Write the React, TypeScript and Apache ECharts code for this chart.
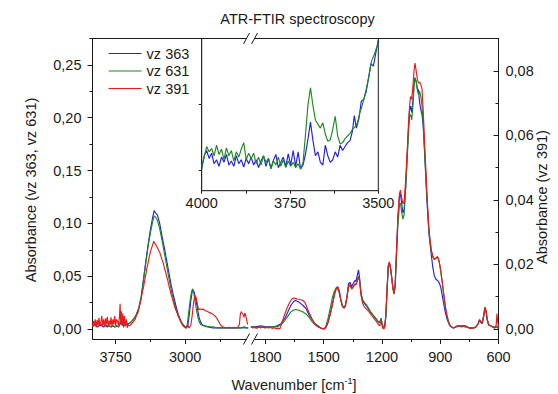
import { useEffect, useRef } from 'react';
import * as echarts from 'echarts';

type P = [number, number][];

// ---------- texts ----------
const titleText = 'ATR-FTIR spectroscopy';
const leftAxisName = 'Absorbance (vz 363, vz 631)';
const rightAxisName = 'Absorbance (vz 391)';
const seriesNames = ['vz 363', 'vz 631', 'vz 391'];

// ---------- ticks ----------
const highTicks = [3750, 3000];
const highMinor = [3375, 2625];
const lowTicks = [1800, 1500, 1200, 900, 600];
const lowMinor = [1650, 1350, 1050, 750];
const leftYTicks = [0, 0.05, 0.1, 0.15, 0.2, 0.25];
const leftYMinor = [0.025, 0.075, 0.125, 0.175, 0.225, 0.275];
const rightYTicks = [0, 0.02, 0.04, 0.06, 0.08];
const rightYMinor = [0.01, 0.03, 0.05, 0.07, 0.09];
const insetXTicks = [4000, 3750, 3500];
const insetXMinor = [3875, 3625];
const insetYTicks = [0, 1, 2];

// ---------- data: high wavenumber segment (4000 - 2300 cm-1) ----------
const vz363High: P = [
  [4000,0.002],[3980,0.004],[3960,0.003],[3940,0.002],[3920,0.004],[3900,0.003],[3880,0.002],[3860,0.003],
  [3840,0.002],[3820,0.003],[3800,0.002],[3780,0.003],[3760,0.002],[3740,0.003],[3720,0.002],[3705,0.004],
  [3692,0.007],[3680,0.004],[3665,0.003],[3650,0.004],[3630,0.004],[3610,0.005],[3590,0.006],[3570,0.008],
  [3550,0.010],[3525,0.014],[3500,0.020],[3475,0.030],[3450,0.047],[3425,0.064],[3400,0.080],[3375,0.094],
  [3350,0.106],[3335,0.112],[3320,0.110],[3300,0.108],[3275,0.100],[3250,0.088],[3225,0.077],[3200,0.065],
  [3175,0.053],[3150,0.041],[3125,0.031],[3100,0.022],[3075,0.014],[3050,0.008],[3025,0.004],[3000,0.002],
  [2985,0.001],[2970,0.004],[2955,0.014],[2940,0.026],[2925,0.035],[2912,0.037],[2900,0.034],[2890,0.029],
  [2878,0.025],[2865,0.018],[2850,0.011],[2835,0.007],[2815,0.004],[2790,0.003],[2750,0.002],[2700,0.001],
  [2650,0.001],[2600,0.001],[2550,0.001],[2500,0.001],[2450,0.001],[2400,0.001],[2360,0.002],[2340,0.001],
  [2320,0.001]
];
const vz631High: P = [
  [4000,0.003],[3980,0.004],[3960,0.005],[3940,0.004],[3920,0.005],[3900,0.004],[3880,0.005],[3860,0.004],
  [3840,0.003],[3820,0.003],[3800,0.002],[3780,0.003],[3760,0.002],[3740,0.003],[3720,0.002],[3705,0.006],
  [3692,0.009],[3680,0.006],[3665,0.006],[3650,0.005],[3630,0.006],[3610,0.005],[3590,0.006],[3570,0.008],
  [3550,0.010],[3525,0.014],[3500,0.020],[3475,0.030],[3450,0.046],[3425,0.062],[3400,0.078],[3375,0.091],
  [3350,0.102],[3335,0.107],[3320,0.106],[3300,0.103],[3275,0.095],[3250,0.084],[3225,0.072],[3200,0.060],
  [3175,0.048],[3150,0.037],[3125,0.027],[3100,0.019],[3075,0.012],[3050,0.007],[3025,0.003],[3000,0.001],
  [2990,0.001],[2978,0.004],[2962,0.016],[2945,0.028],[2930,0.036],[2918,0.038],[2905,0.033],[2893,0.026],
  [2880,0.019],[2865,0.012],[2850,0.007],[2830,0.004],[2800,0.003],[2750,0.002],[2700,0.002],[2650,0.001],
  [2600,0.001],[2550,0.001],[2500,0.001],[2450,0.001],[2400,0.001],[2360,0.001],[2320,0.001]
];
const vz391High: P = [
  [4000,0.0008],[3990,0.0025],[3980,0.0010],[3970,0.0030],[3960,0.0005],[3950,0.0028],[3940,0.0012],[3930,0.0035],
  [3920,0.0008],[3910,0.0022],[3900,0.0040],[3890,0.0010],[3880,0.0030],[3870,0.0006],[3860,0.0033],[3850,0.0015],
  [3840,0.0038],[3830,0.0009],[3820,0.0026],[3810,0.0012],[3800,0.0036],[3790,0.0007],[3780,0.0030],[3770,0.0014],
  [3760,0.0040],[3750,0.0010],[3740,0.0030],[3730,0.0025],[3720,0.0012],[3710,0.0035],[3702,0.0078],[3696,0.0020],
  [3688,0.0055],[3680,0.0010],[3672,0.0048],[3664,0.0005],[3655,0.0040],[3645,0.0008],[3635,0.0030],[3625,0.0004],
  [3615,0.0012],[3600,0.0010],[3580,0.0015],[3560,0.0022],[3540,0.0030],[3525,0.0042],[3510,0.0050],[3500,0.0062],
  [3490,0.0075],[3475,0.0092],[3462,0.0115],[3450,0.0128],[3437,0.0150],[3425,0.0168],[3412,0.0190],[3400,0.0205],
  [3387,0.0225],[3375,0.0238],[3362,0.0252],[3350,0.0260],[3340,0.0272],[3330,0.0266],[3320,0.0262],[3310,0.0258],
  [3300,0.0252],[3288,0.0245],[3275,0.0238],[3262,0.0226],[3250,0.0215],[3237,0.0205],[3225,0.0190],[3212,0.0178],
  [3200,0.0163],[3187,0.0150],[3175,0.0134],[3162,0.0120],[3150,0.0105],[3137,0.0094],[3125,0.0080],[3112,0.0068],
  [3100,0.0058],[3087,0.0050],[3075,0.0041],[3062,0.0035],[3050,0.0028],[3037,0.0020],[3025,0.0014],[3012,0.0010],
  [3000,0.0008],[2985,0.0004],[2970,0.0012],[2960,0.0003],[2950,0.0008],[2940,0.0010],[2925,0.0040],[2912,0.0075],
  [2900,0.0098],[2890,0.0104],[2880,0.0095],[2870,0.0080],[2860,0.0066],[2850,0.0060],[2835,0.0062],[2820,0.0060],
  [2805,0.0062],[2790,0.0058],[2775,0.0056],[2760,0.0055],[2745,0.0052],[2730,0.0050],[2715,0.0048],[2700,0.0046],
  [2685,0.0042],[2670,0.0038],[2655,0.0032],[2640,0.0024],[2625,0.0016],[2610,0.0010],[2595,0.0007],[2575,0.0005],
  [2550,0.0004],[2525,0.0005],[2500,0.0004],[2475,0.0005],[2450,0.0004],[2430,0.0006],[2415,0.0014],[2405,0.0045],
  [2395,0.0054],[2385,0.0048],[2375,0.0046],[2365,0.0036],[2355,0.0050],[2345,0.0040],[2335,0.0026],[2326,0.0014]
];

// ---------- data: low wavenumber segment (1875 - 600 cm-1) ----------
const vz363Low: P = [
  [1875,0.002],[1850,0.002],[1825,0.003],[1800,0.002],[1780,0.002],[1760,0.002],[1740,0.003],[1720,0.005],
  [1700,0.010],[1685,0.016],[1670,0.022],[1655,0.026],[1645,0.027],[1632,0.026],[1618,0.024],[1605,0.022],
  [1590,0.019],[1575,0.013],[1560,0.009],[1545,0.005],[1530,0.003],[1515,0.001],[1500,0.000],[1490,0.001],
  [1478,0.006],[1466,0.015],[1455,0.024],[1445,0.033],[1435,0.039],[1428,0.040],[1420,0.036],[1412,0.028],
  [1404,0.022],[1395,0.020],[1388,0.022],[1380,0.031],[1372,0.043],[1364,0.044],[1356,0.040],[1348,0.043],
  [1340,0.046],[1334,0.045],[1328,0.050],[1321,0.056],[1315,0.048],[1308,0.034],[1300,0.027],[1290,0.024],
  [1280,0.022],[1270,0.019],[1258,0.016],[1245,0.013],[1232,0.010],[1220,0.007],[1212,0.006],[1205,0.010],
  [1199,0.005],[1192,0.001],[1186,0.002],[1180,0.012],[1173,0.040],[1167,0.060],[1162,0.063],[1156,0.058],
  [1150,0.049],[1144,0.040],[1138,0.034],[1132,0.042],[1126,0.070],[1118,0.105],[1110,0.125],[1105,0.128],
  [1098,0.118],[1092,0.110],[1086,0.113],[1078,0.135],[1070,0.165],[1063,0.192],[1058,0.207],[1053,0.211],
  [1047,0.205],[1041,0.215],[1035,0.232],[1030,0.238],[1024,0.234],[1018,0.228],[1012,0.226],[1006,0.214],
  [1000,0.208],[994,0.203],[988,0.193],[982,0.172],[976,0.150],[970,0.127],[964,0.108],[958,0.090],
  [952,0.080],[946,0.070],[938,0.058],[930,0.050],[922,0.047],[914,0.046],[906,0.044],[898,0.040],
  [890,0.032],[882,0.024],[874,0.016],[866,0.010],[858,0.006],[850,0.003],[842,0.002],[832,0.001],
  [820,0.002],[810,0.003],[800,0.003],[790,0.002],[780,0.003],[770,0.003],[760,0.002],[750,0.001],
  [740,0.001],[728,0.001],[716,0.002],[705,0.005],[698,0.008],[690,0.006],[684,0.005],[677,0.011],
  [670,0.019],[664,0.016],[658,0.008],[650,0.004],[640,0.003],[630,0.002],[620,0.001],[612,0.002],
  [605,0.002],[600,0.002]
];
const vz631Low: P = [
  [1875,0.002],[1850,0.001],[1825,0.002],[1800,0.001],[1780,0.002],[1760,0.002],[1740,0.002],[1720,0.004],
  [1700,0.008],[1685,0.012],[1670,0.016],[1655,0.018],[1645,0.0185],[1632,0.018],[1618,0.017],[1605,0.016],
  [1590,0.014],[1575,0.011],[1560,0.007],[1545,0.004],[1530,0.002],[1515,0.001],[1500,0.000],[1490,0.002],
  [1478,0.010],[1466,0.020],[1455,0.030],[1445,0.036],[1435,0.039],[1428,0.038],[1420,0.034],[1412,0.027],
  [1404,0.022],[1395,0.021],[1388,0.023],[1380,0.030],[1372,0.040],[1364,0.041],[1356,0.038],[1348,0.040],
  [1340,0.042],[1334,0.042],[1328,0.045],[1321,0.050],[1315,0.045],[1308,0.034],[1300,0.028],[1290,0.025],
  [1280,0.023],[1270,0.020],[1258,0.016],[1245,0.013],[1232,0.010],[1220,0.007],[1212,0.006],[1205,0.010],
  [1199,0.005],[1192,0.001],[1186,0.002],[1180,0.012],[1173,0.040],[1167,0.060],[1162,0.062],[1156,0.057],
  [1150,0.048],[1144,0.038],[1138,0.033],[1132,0.040],[1126,0.066],[1118,0.098],[1110,0.118],[1105,0.119],
  [1098,0.110],[1092,0.104],[1086,0.108],[1078,0.132],[1070,0.162],[1063,0.188],[1058,0.202],[1053,0.203],
  [1047,0.198],[1041,0.210],[1035,0.230],[1030,0.237],[1024,0.235],[1018,0.226],[1012,0.222],[1006,0.225],
  [1000,0.220],[994,0.212],[988,0.196],[982,0.174],[976,0.152],[970,0.130],[964,0.110],[958,0.092],
  [952,0.082],[946,0.074],[938,0.068],[930,0.066],[922,0.067],[914,0.068],[906,0.064],[898,0.055],
  [890,0.044],[882,0.032],[874,0.021],[866,0.013],[858,0.007],[850,0.003],[842,0.002],[832,0.001],
  [820,0.002],[810,0.003],[800,0.003],[790,0.003],[780,0.003],[770,0.002],[760,0.002],[750,0.001],
  [740,0.001],[728,0.001],[716,0.002],[705,0.005],[698,0.009],[690,0.007],[684,0.006],[677,0.012],
  [670,0.020],[664,0.017],[658,0.009],[650,0.004],[640,0.003],[630,0.002],[620,0.002],[612,0.002],
  [605,0.001],[600,0.001]
];
const vz391Low: P = [
  [1875,0.0008],[1865,0.0003],[1855,0.0007],[1845,0.0002],[1835,0.0006],[1825,0.0003],[1815,0.0007],[1805,0.0004],
  [1795,0.0006],[1785,0.0003],[1775,0.0005],[1765,0.0002],[1755,0.0004],[1745,0.0001],[1735,0.0002],[1725,0.0001],
  [1715,0.0020],[1705,0.0038],[1695,0.0055],[1685,0.0070],[1675,0.0083],[1665,0.0092],[1655,0.0096],[1645,0.0095],
  [1635,0.0093],[1625,0.0092],[1615,0.0090],[1605,0.0088],[1595,0.0080],[1585,0.0065],[1575,0.0050],[1565,0.0038],
  [1555,0.0025],[1545,0.0016],[1535,0.0010],[1520,0.0004],[1505,0.0001],[1495,0.0002],[1485,0.0010],[1475,0.0025],
  [1466,0.0045],[1455,0.0075],[1445,0.0105],[1435,0.0125],[1428,0.0130],[1420,0.0118],[1412,0.0090],[1404,0.0070],
  [1395,0.0064],[1388,0.0072],[1380,0.0100],[1372,0.0135],[1364,0.0138],[1356,0.0124],[1348,0.0130],[1340,0.0140],
  [1334,0.0138],[1328,0.0148],[1321,0.0162],[1315,0.0148],[1308,0.0105],[1300,0.0080],[1290,0.0068],[1280,0.0062],
  [1270,0.0055],[1258,0.0046],[1245,0.0036],[1232,0.0026],[1220,0.0016],[1212,0.0010],[1205,0.0026],[1199,0.0008],
  [1194,0.0001],[1188,0.0002],[1182,0.0030],[1175,0.0110],[1168,0.0195],[1162,0.0208],[1156,0.0192],[1150,0.0162],
  [1144,0.0128],[1138,0.0110],[1132,0.0140],[1126,0.0230],[1118,0.0345],[1110,0.0420],[1105,0.0430],[1098,0.0405],
  [1092,0.0388],[1086,0.0395],[1078,0.0460],[1070,0.0555],[1063,0.0640],[1058,0.0690],[1053,0.0720],[1047,0.0712],
  [1041,0.0750],[1035,0.0800],[1030,0.0824],[1024,0.0800],[1018,0.0775],[1012,0.0762],[1006,0.0765],[1000,0.0758],
  [994,0.0745],[988,0.0680],[982,0.0600],[976,0.0520],[970,0.0440],[964,0.0370],[958,0.0310],[952,0.0275],
  [946,0.0245],[938,0.0225],[930,0.0215],[922,0.0220],[914,0.0225],[906,0.0212],[898,0.0185],[890,0.0148],
  [882,0.0110],[874,0.0072],[866,0.0045],[858,0.0025],[850,0.0012],[842,0.0006],[832,0.0003],[820,0.0006],
  [810,0.0010],[800,0.0008],[790,0.0010],[780,0.0009],[770,0.0006],[760,0.0007],[750,0.0002],[740,0.0002],
  [728,0.0003],[716,0.0006],[705,0.0016],[698,0.0028],[690,0.0022],[684,0.0018],[677,0.0040],[670,0.0068],
  [664,0.0058],[658,0.0030],[650,0.0012],[640,0.0010],[630,0.0006],[620,0.0003],[612,0.0012],[608,0.0048],
  [604,0.0020],[600,0.0005]
];

// ---------- data: inset (4000 - 3500 cm-1, arbitrary units) ----------
const inset363: P = [
  [4000,0.02],[3993,0.22],[3986,0.30],[3979,0.18],[3972,0.26],[3965,0.10],[3958,0.16],[3951,0.06],[3944,0.20],
  [3937,0.12],[3930,0.24],[3923,0.08],[3916,0.14],[3909,0.06],[3902,0.22],[3895,0.10],[3888,0.16],[3881,0.05],
  [3874,0.18],[3867,0.10],[3860,0.20],[3853,0.08],[3846,0.16],[3839,0.04],[3832,0.14],[3825,0.22],[3818,0.06],
  [3811,0.18],[3804,0.03],[3797,0.15],[3790,0.24],[3783,0.04],[3776,0.12],[3769,0.20],[3762,0.06],[3755,0.25],
  [3748,0.08],[3741,0.30],[3734,0.06],[3727,0.28],[3720,0.02],[3713,0.08],[3706,0.25],[3699,0.48],[3692,0.73],
  [3685,0.45],[3678,0.22],[3671,0.28],[3664,0.12],[3657,0.08],[3650,0.38],[3643,0.22],[3636,0.12],[3629,0.16],
  [3622,0.28],[3615,0.20],[3608,0.38],[3601,0.30],[3594,0.36],[3587,0.42],[3580,0.45],[3573,0.60],[3568,0.83],
  [3562,0.64],[3555,0.78],[3548,1.05],[3541,1.08],[3534,1.20],[3527,1.42],[3521,1.62],[3514,1.58],[3507,1.78],
  [3500,1.98]
];
const inset631: P = [
  [4000,0.05],[3993,0.20],[3986,0.36],[3979,0.28],[3972,0.33],[3965,0.22],[3958,0.38],[3951,0.24],[3944,0.32],
  [3937,0.16],[3930,0.34],[3923,0.22],[3916,0.30],[3909,0.14],[3902,0.28],[3895,0.20],[3888,0.32],[3881,0.42],
  [3874,0.16],[3867,0.26],[3860,0.18],[3853,0.26],[3846,0.10],[3839,0.20],[3832,0.08],[3825,0.22],[3818,0.12],
  [3811,0.18],[3804,0.02],[3797,0.14],[3790,0.08],[3783,0.20],[3776,0.06],[3769,0.16],[3762,0.04],[3755,0.14],
  [3748,0.06],[3741,0.12],[3734,0.04],[3727,0.10],[3720,0.02],[3713,0.12],[3706,0.55],[3699,1.00],[3692,1.25],
  [3685,0.98],[3678,0.76],[3671,0.70],[3664,0.64],[3657,0.72],[3650,0.55],[3643,0.44],[3636,0.46],[3629,0.62],
  [3622,0.82],[3615,0.52],[3608,0.40],[3601,0.42],[3594,0.48],[3587,0.52],[3580,0.56],[3573,0.62],[3566,0.66],
  [3559,0.72],[3553,0.86],[3547,0.96],[3540,1.10],[3533,1.26],[3526,1.44],[3519,1.66],[3512,1.75],[3505,1.86],
  [3500,1.92]
];

// ---------- layout ----------
const W = 558, H = 394;
const PL = 92.5, PR = 498.5, PT = 38.5, PB = 339, BRK = 250.5;
const IL = 201.7, IR = 378.3, IB = 190.7;
const FF = '"Liberation Sans", Arial, Helvetica, sans-serif';
const FS = 14.5;
const INK = '#1a1a1a';
const COLORS = ['#1f1ff0', '#1d8a1d', '#f01818'];

const comma = (v: number) => v.toFixed(2).replace('.', ',');
const plain = (v: number) => String(Math.round(v));

function buildOption(): any {
  const txt = { color: INK, fontSize: FS, fontFamily: FF };
  const lineCol = { color: INK, width: 1 };
  const xMain = (grid: number, min: number, max: number, ticks: number[]) => ({
    gridIndex: grid, type: 'value', min, max, inverse: true, position: 'bottom',
    axisLine: { show: true, onZero: false, lineStyle: lineCol },
    axisTick: { show: true, customValues: ticks, length: 5, lineStyle: lineCol },
    axisLabel: { show: true, customValues: ticks, margin: 10, formatter: plain, ...txt },
    splitLine: { show: false },
  });
  const xMinor = (grid: number, min: number, max: number, ticks: number[], len: number) => ({
    gridIndex: grid, type: 'value', min, max, inverse: true, position: 'bottom',
    axisLine: { show: false, onZero: false },
    axisTick: { show: true, customValues: ticks, length: len, lineStyle: lineCol },
    axisLabel: { show: false },
    splitLine: { show: false },
  });
  const LMIN = -0.00947, LMAX = 0.275, RMIN = -0.0031, RMAX = 0.09;
  const HMIN = 2295, HMAX = 4000, LOWMIN = 600, LOWMAX = 1877;

  const series: any[] = [];
  const add = (name: string, data: P, xi: number, yi: number, color: string, z: number) =>
    series.push({
      type: 'line', name, data, xAxisIndex: xi, yAxisIndex: yi, symbol: 'none', showSymbol: false,
      lineStyle: { width: 1.15, color }, itemStyle: { color }, silent: true, z,
      emphasis: { disabled: true },
    });
  add(seriesNames[0], vz363High, 0, 0, COLORS[0], 2);
  add(seriesNames[1], vz631High, 0, 0, COLORS[1], 3);
  add(seriesNames[2], vz391High, 0, 1, COLORS[2], 4);
  add(seriesNames[0], vz363Low, 2, 2, COLORS[0], 2);
  add(seriesNames[1], vz631Low, 2, 2, COLORS[1], 3);
  add(seriesNames[2], vz391Low, 2, 3, COLORS[2], 4);
  add(seriesNames[0], inset363, 4, 6, COLORS[0], 2);
  add(seriesNames[1], inset631, 4, 6, COLORS[1], 3);

  const mk = (x1: number, y1: number, x2: number, y2: number) => ({
    type: 'line', z: 100, silent: true,
    shape: { x1, y1, x2, y2 }, style: { stroke: INK, lineWidth: 1 },
  });
  const mask = (y: number) => ({
    type: 'rect', z: 99, silent: true,
    shape: { x: 247, y: y - 2.5, width: 7.5, height: 5 }, style: { fill: '#fff' },
  });

  return {
    animation: false,
    backgroundColor: '#fff',
    grid: [
      { left: PL, top: PT, width: BRK - PL, height: PB - PT, show: false },
      { left: BRK, top: PT, width: PR - BRK, height: PB - PT, show: false },
      { left: IL, top: PT, width: IR - IL, height: IB - PT, show: true, backgroundColor: '#fff', borderColor: INK, borderWidth: 1, z: 1 },
    ],
    xAxis: [
      xMain(0, HMIN, HMAX, highTicks),
      xMinor(0, HMIN, HMAX, highMinor, 3),
      xMain(1, LOWMIN, LOWMAX, lowTicks),
      xMinor(1, LOWMIN, LOWMAX, lowMinor, 3),
      {
        gridIndex: 2, type: 'value', min: 3500, max: 4000, inverse: true, position: 'bottom',
        axisLine: { show: true, onZero: false, lineStyle: lineCol },
        axisTick: { show: true, customValues: insetXTicks, length: 3, lineStyle: lineCol },
        axisLabel: { show: true, customValues: insetXTicks, margin: 5, formatter: plain, ...txt },
        splitLine: { show: false },
      },
      xMinor(2, 3500, 4000, insetXMinor, 3),
    ],
    yAxis: [
      {
        gridIndex: 0, type: 'value', min: LMIN, max: LMAX, position: 'left',
        axisLine: { show: true, onZero: false, lineStyle: lineCol },
        axisTick: { show: true, customValues: leftYTicks, length: 5, lineStyle: lineCol },
        axisLabel: { show: true, customValues: leftYTicks, margin: 11, formatter: comma, ...txt },
        splitLine: { show: false },
      },
      { gridIndex: 0, type: 'value', min: RMIN, max: RMAX, show: false, position: 'right', splitLine: { show: false } },
      { gridIndex: 1, type: 'value', min: LMIN, max: LMAX, show: false, position: 'left', splitLine: { show: false } },
      {
        gridIndex: 1, type: 'value', min: RMIN, max: RMAX, position: 'right',
        axisLine: { show: true, onZero: false, lineStyle: lineCol },
        axisTick: { show: true, inside: true, customValues: rightYTicks, length: 5, lineStyle: lineCol },
        axisLabel: { show: true, customValues: rightYTicks, margin: 7, formatter: comma, ...txt },
        splitLine: { show: false },
      },
      {
        gridIndex: 0, type: 'value', min: LMIN, max: LMAX, position: 'left',
        axisLine: { show: false, onZero: false },
        axisTick: { show: true, customValues: leftYMinor, length: 3, lineStyle: lineCol },
        axisLabel: { show: false }, splitLine: { show: false },
      },
      {
        gridIndex: 1, type: 'value', min: RMIN, max: RMAX, position: 'right',
        axisLine: { show: false, onZero: false },
        axisTick: { show: true, inside: true, customValues: rightYMinor, length: 3, lineStyle: lineCol },
        axisLabel: { show: false }, splitLine: { show: false },
      },
      {
        gridIndex: 2, type: 'value', min: -0.31, max: 2, position: 'left',
        axisLine: { show: true, onZero: false, lineStyle: lineCol },
        axisTick: { show: true, customValues: insetYTicks, length: 3, lineStyle: lineCol },
        axisLabel: { show: false }, splitLine: { show: false },
      },
    ],
    legend: {
      data: seriesNames.map((name, i) => ({
        name,
        itemStyle: { opacity: 0 },
        lineStyle: { color: COLORS[i], width: 1.2, opacity: 1 },
      })),
      orient: 'vertical', left: 103, top: 41,
      itemWidth: 33, itemHeight: 14, itemGap: 2.5,
      textStyle: { color: INK, fontSize: FS, fontFamily: FF },
      selectedMode: false,
    },
    series,
    graphic: {
      elements: [
        { type: 'line', z: 98, silent: true, shape: { x1: PL, y1: PT, x2: PR, y2: PT }, style: { stroke: INK, lineWidth: 1 } },
        mask(PT), mask(PB),
        mk(243.5, PT + 5.5, 249.5, PT - 5.5), mk(251.5, PT + 5.5, 257.5, PT - 5.5),
        mk(243.5, PB + 5.5, 249.5, PB - 5.5), mk(251.5, PB + 5.5, 257.5, PB - 5.5),
        {
          type: 'text', z: 100, silent: true, x: 297.5, y: 18.5,
          style: { text: titleText, align: 'center', verticalAlign: 'middle', fill: INK, font: `${FS}px ${FF}` },
        },
        {
          type: 'text', z: 100, silent: true, x: 31, y: 190, rotation: Math.PI / 2,
          style: { text: leftAxisName, align: 'center', verticalAlign: 'middle', fill: INK, font: `${FS}px ${FF}` },
        },
        {
          type: 'text', z: 100, silent: true, x: 542, y: 197, rotation: Math.PI / 2,
          style: { text: rightAxisName, align: 'center', verticalAlign: 'middle', fill: INK, font: `${FS}px ${FF}` },
        },
        {
          type: 'text', z: 100, silent: true, x: 294, y: 385,
          style: {
            text: '{a|Wavenumber [cm}{s|-1}{a|]}', align: 'center', verticalAlign: 'middle',
            rich: {
              a: { fontSize: FS, fontFamily: FF, fill: INK, lineHeight: 18 },
              s: { fontSize: 9, fontFamily: FF, fill: INK, lineHeight: 18, verticalAlign: 'top' },
            },
          },
        },
      ],
    },
  };
}

export default function App() {
  const ref = useRef<HTMLDivElement>(null);
  useEffect(() => {
    if (!ref.current) return;
    const chart = echarts.init(ref.current, undefined, { renderer: 'svg', width: W, height: H });
    chart.setOption(buildOption());
    return () => chart.dispose();
  }, []);
  return <div ref={ref} style={{ position: 'absolute', left: 0, top: 0, width: W, height: H, background: '#fff' }} />;
}
